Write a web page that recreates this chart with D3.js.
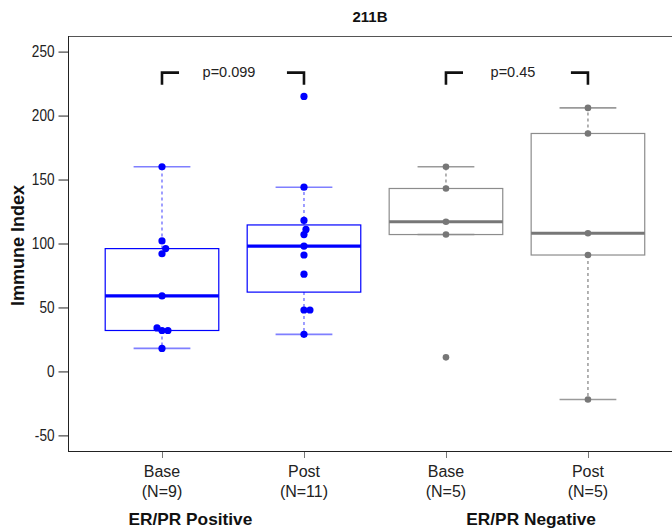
<!DOCTYPE html>
<html><head><meta charset="utf-8">
<script src="https://cdn.jsdelivr.net/npm/d3@7"></script>
<style>body{margin:0;background:#fff}svg{display:block}text{font-family:"Liberation Sans",Arial,sans-serif}</style>
</head><body><svg id="c" width="672" height="529"></svg>
<script>
const categories = ["Base", "Post", "Base", "Post"];
const counts = ["(N=9)", "(N=11)", "(N=5)", "(N=5)"];
const groups = ["ER/PR Positive", "ER/PR Negative"];
const posBase = [160, 102, 96, 92, 59, 34, 32, 32, 18];
const posPost = [215, 144, 118, 111, 107, 98, 91, 76, 48, 48, 29];
const negBase = [160, 143, 117, 107, 11];
const negPost = [206, 186, 108, 91, -22];
const jitPosBase = [0, 0, 0.026, 0, 0, -0.035, 0, 0.042, 0];
const jitPosPost = [0, 0, 0, 0.014, 0, 0, 0, 0, 0, 0.042, 0];
const jitNegBase = [0, 0, 0, 0, 0];
const jitNegPost = [0, 0, 0, 0, 0];
const pValues = ["p=0.099", "p=0.45"];
const yTicks = [-50, 0, 50, 100, 150, 200, 250];
const title = "211B";
const yLabel = "Immune Index";

const series = [posBase, posPost, negBase, negPost];
const jitters = [jitPosBase, jitPosPost, jitNegBase, jitNegPost];
const colors = [
  {pt:"#0000ff", box:"#0000ff", med:"#0000ff", wh:"#7f7fff"},
  {pt:"#0000ff", box:"#0000ff", med:"#0000ff", wh:"#7f7fff"},
  {pt:"#777777", box:"#8c8c8c", med:"#777777", wh:"#9a9a9a"},
  {pt:"#777777", box:"#8c8c8c", med:"#777777", wh:"#9a9a9a"}
];

const svg = d3.select("#c");
const L = 68, R = 672, T = 36, B = 451;
const x = d3.scaleLinear().domain([0.338, 4.592]).range([L, R]);
const y = d3.scaleLinear().domain([-62.2, 262.2]).range([B, T]);

// frame
svg.append("rect").attr("x", L + 0.5).attr("y", T + 0.5).attr("width", R - L).attr("height", B - T)
  .attr("fill", "none").attr("stroke", "#555").attr("stroke-width", 1);
svg.append("line").attr("x1", L + 0.5).attr("x2", L + 0.5).attr("y1", T).attr("y2", B + 1).attr("stroke", "#222");
svg.append("line").attr("x1", L).attr("x2", R).attr("y1", B + 0.5).attr("y2", B + 0.5).attr("stroke", "#222");

// y axis
const yAxis = d3.axisLeft(y).tickValues(yTicks).tickSize(10).tickPadding(4).tickFormat(d => String(d));
const ga = svg.append("g").attr("transform", `translate(${L + 0.5},0)`).call(yAxis);
ga.select(".domain").remove();
ga.selectAll(".tick line").attr("stroke", "#222");
ga.selectAll(".tick text").attr("font-size", 16).attr("fill", "#222")
  .attr("transform", "scale(0.85,1)").attr("x", -14 / 0.85)
  .style("font-family", '"Liberation Sans Narrow","Liberation Sans",Arial,sans-serif');

// x axis ticks
const xs = [1, 2, 3, 4];
svg.selectAll(".xt").data(xs).enter().append("line")
  .attr("x1", d => Math.round(x(d)) + 0.5).attr("x2", d => Math.round(x(d)) + 0.5)
  .attr("y1", B + 1).attr("y2", B + 7).attr("stroke", "#777");
svg.selectAll(".xl").data(xs).enter().append("text")
  .attr("x", d => x(d)).attr("y", 477).attr("text-anchor", "middle")
  .attr("font-size", 16).attr("fill", "#222").text((d, i) => categories[i]);
svg.selectAll(".xn").data(xs).enter().append("text")
  .attr("x", d => x(d)).attr("y", 497).attr("text-anchor", "middle")
  .attr("font-size", 16).attr("fill", "#222").text((d, i) => counts[i]);
const groupCenters = [1.2, 3.6];
svg.selectAll(".gl").data(groups).enter().append("text")
  .attr("x", (d, i) => x(groupCenters[i])).attr("y", 525).attr("text-anchor", "middle")
  .attr("font-size", 17.3).attr("font-weight", "bold").attr("fill", "#111").text(d => d);

// title & y label
svg.append("text").attr("x", (L + R) / 2).attr("y", 22).attr("text-anchor", "middle")
  .attr("font-size", 15).attr("font-weight", "bold").attr("fill", "#111").text(title);
svg.append("text").attr("transform", `translate(24,${(T + B) / 2 + 2}) rotate(-90)`)
  .attr("text-anchor", "middle").attr("font-size", 18).attr("font-weight", "bold").attr("fill", "#111").text(yLabel);

// boxes
const hw = 0.4, cw = 0.2;
series.forEach((vals, i) => {
  const pos = i + 1;
  const c = colors[i];
  const s = vals.slice().sort(d3.ascending);
  const q1 = d3.quantile(s, 0.25), med = d3.quantile(s, 0.5), q3 = d3.quantile(s, 0.75);
  const iqr = q3 - q1;
  const lo = d3.min(s.filter(v => v >= q1 - 1.5 * iqr));
  const hi = d3.max(s.filter(v => v <= q3 + 1.5 * iqr));
  const g = svg.append("g");
  if (hi > q3) {
    g.append("line").attr("x1", x(pos)).attr("x2", x(pos)).attr("y1", y(q3)).attr("y2", y(hi))
      .attr("stroke", c.wh).attr("stroke-width", 1.5).attr("stroke-dasharray", "3,3");
  }
  if (lo < q1) {
    g.append("line").attr("x1", x(pos)).attr("x2", x(pos)).attr("y1", y(q1)).attr("y2", y(lo))
      .attr("stroke", c.wh).attr("stroke-width", 1.5).attr("stroke-dasharray", "3,3");
  }
  [lo, hi].forEach(v => {
    g.append("line").attr("x1", x(pos - cw)).attr("x2", x(pos + cw)).attr("y1", y(v)).attr("y2", y(v))
      .attr("stroke", c.wh).attr("stroke-width", 1.6);
  });
  g.append("rect").attr("x", x(pos - hw)).attr("y", y(q3)).attr("width", x(pos + hw) - x(pos - hw))
    .attr("height", y(q1) - y(q3)).attr("fill", "none").attr("stroke", c.box).attr("stroke-width", 1.2);
  g.append("line").attr("x1", x(pos - hw)).attr("x2", x(pos + hw)).attr("y1", y(med)).attr("y2", y(med))
    .attr("stroke", c.med).attr("stroke-width", 3.2);
  g.selectAll("circle").data(vals).enter().append("circle")
    .attr("cx", (v, j) => x(pos + jitters[i][j])).attr("cy", v => y(v))
    .attr("r", i < 2 ? 3.6 : 3.3).attr("fill", c.pt);
});

// brackets
const brTop = 233.6, brBot = 224, brArm = 0.12;
[[1, 2], [3, 4]].forEach((pr, k) => {
  const [a, b] = pr;
  svg.append("path").attr("d", `M${x(a)},${y(brBot)}V${y(brTop)}H${x(a + brArm)}`)
    .attr("fill", "none").attr("stroke", "#111").attr("stroke-width", 2.6);
  svg.append("path").attr("d", `M${x(b - brArm)},${y(brTop)}H${x(b)}V${y(brBot)}`)
    .attr("fill", "none").attr("stroke", "#111").attr("stroke-width", 2.6);
  svg.append("text").attr("x", x((a + b) / 2) - 4).attr("y", y(brTop) + 4).attr("text-anchor", "middle")
    .attr("font-size", 14.5).attr("fill", "#222").text(pValues[k]);
});
</script></body></html>
